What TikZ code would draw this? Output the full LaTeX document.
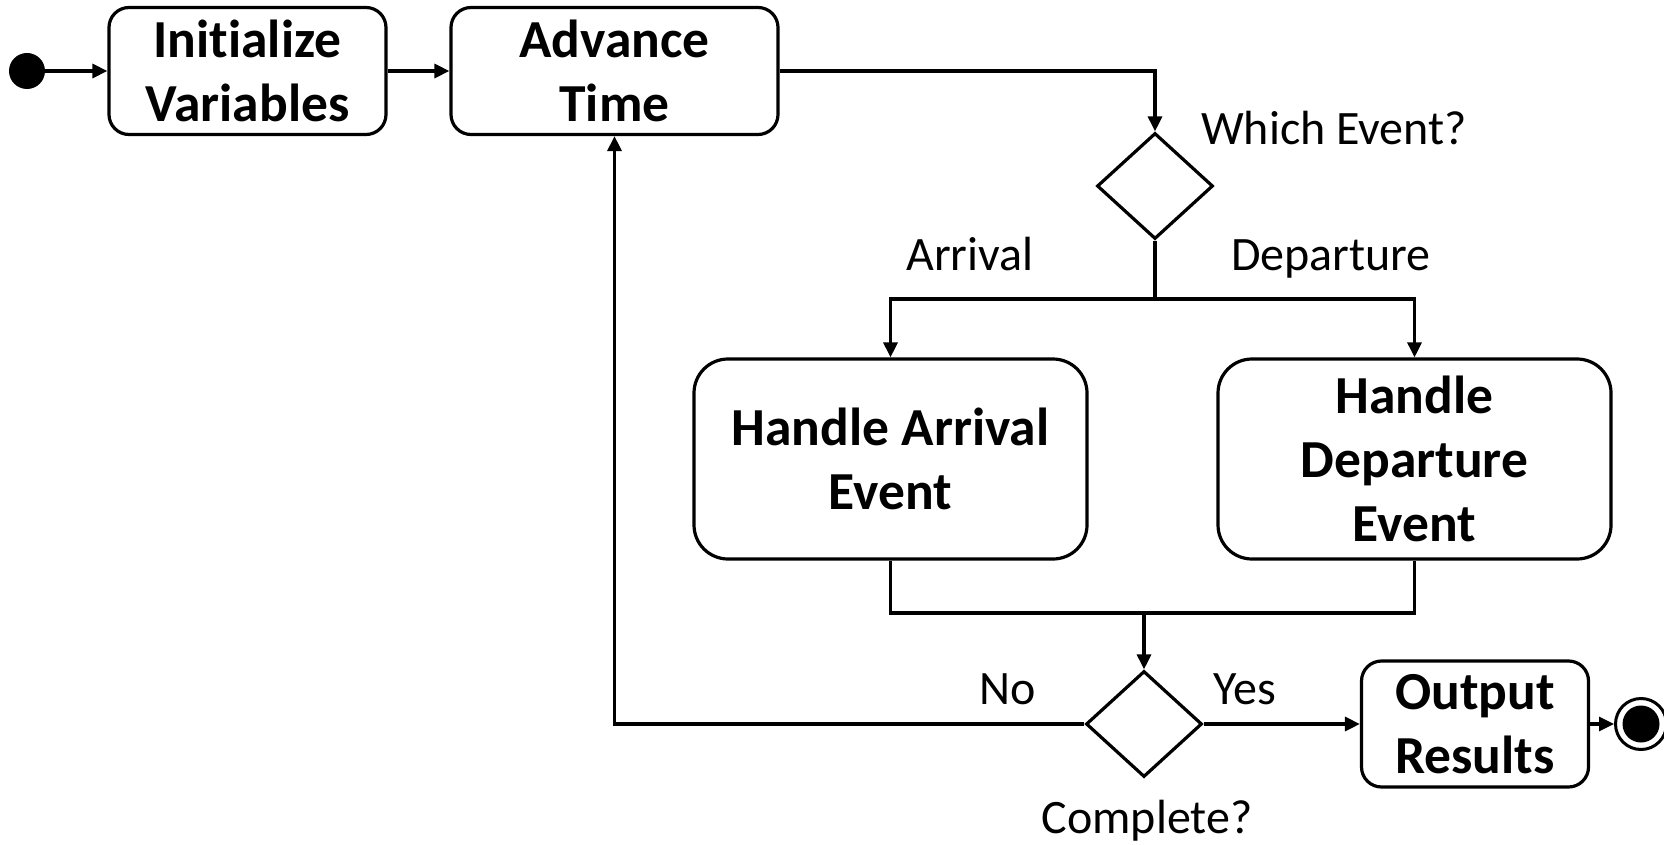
\documentclass[tikz,border=0pt]{standalone}
\usepackage{fontspec}
\setmainfont[Ligatures=NoCommon]{Carlito}
\usetikzlibrary{shapes.geometric,arrows.meta}
\begin{document}
\begin{tikzpicture}[x=1pt,y=-1pt,
  box/.style={draw, line width=3.2pt, rounded corners=20pt, inner sep=0pt, align=center,
    font=\fontsize{53.5}{64}\selectfont\bfseries},
  bigbox/.style={box, rounded corners=34pt, minimum width=393pt, minimum height=200pt},
  dec/.style={draw, diamond, line width=3.2pt, inner sep=0pt, minimum width=116pt, minimum height=106pt},
  lbl/.style={font=\fontsize{48}{56}\selectfont, inner sep=0pt, anchor=base},
  flow/.style={line width=3.1pt, -{Triangle[length=15pt,width=14pt]}},
  wire/.style={line width=3.1pt}]
\useasboundingbox (0,0) rectangle (1664,845);

% activity nodes
\node[circle, fill, minimum size=36pt, inner sep=0pt] (start) at (27,71) {};
\node[box, minimum width=277pt, minimum height=127pt] (init) at (247.5,71) {Initialize\\Variables};
\node[box, minimum width=327pt, minimum height=127pt] (adv) at (614.5,71) {Advance\\Time};
\node[dec] (d1) at (1155,186) {};
\node[bigbox] (arr) at (890.5,459) {Handle Arrival\\Event};
\node[bigbox] (dep) at (1414.5,459) {Handle\\Departure\\Event};
\node[dec] (d2) at (1144,724) {};
\node[box, minimum width=227pt, minimum height=126pt] (out) at (1475,724) {Output\\Results};
\node[circle, draw, line width=3pt, minimum size=51pt, inner sep=0pt] (endc) at (1641,724) {};
\node[circle, fill, minimum size=37pt, inner sep=0pt] (enddot) at (endc) {};

% guard labels
\node[lbl] (qevent) at (1334,145) {Which Event?};
\node[lbl] (larr) at (970,270) {Arrival};
\node[lbl] (ldep) at (1331,270) {Departure};
\node[lbl] (lno) at (1008,704) {No};
\node[lbl] (lyes) at (1245,704) {Yes};
\node[lbl] (qdone) at (1147,833) {Complete?};

% branch points
\coordinate (split) at (1155,299);
\coordinate (merge) at (1144,613);

% connectors
\draw[flow] (start) -- (init.west);
\draw[flow] (init.east) -- (adv.west);
\draw[flow] (adv.east) -| (d1.north);
\draw[wire] (d1.south) -- (split);
\draw[flow] (split) -| (arr.north);
\draw[flow] (split) -| (dep.north);
\draw[wire] (arr.south) |- (merge);
\draw[wire] (dep.south) |- (merge);
\draw[flow] (merge) -- (d2.north);
\draw[flow] (d2.west) -| (adv.south);
\draw[flow] (d2.east) -- (out.west);
\draw[flow] (out.east) -- (endc.west);
\end{tikzpicture}
\end{document}
